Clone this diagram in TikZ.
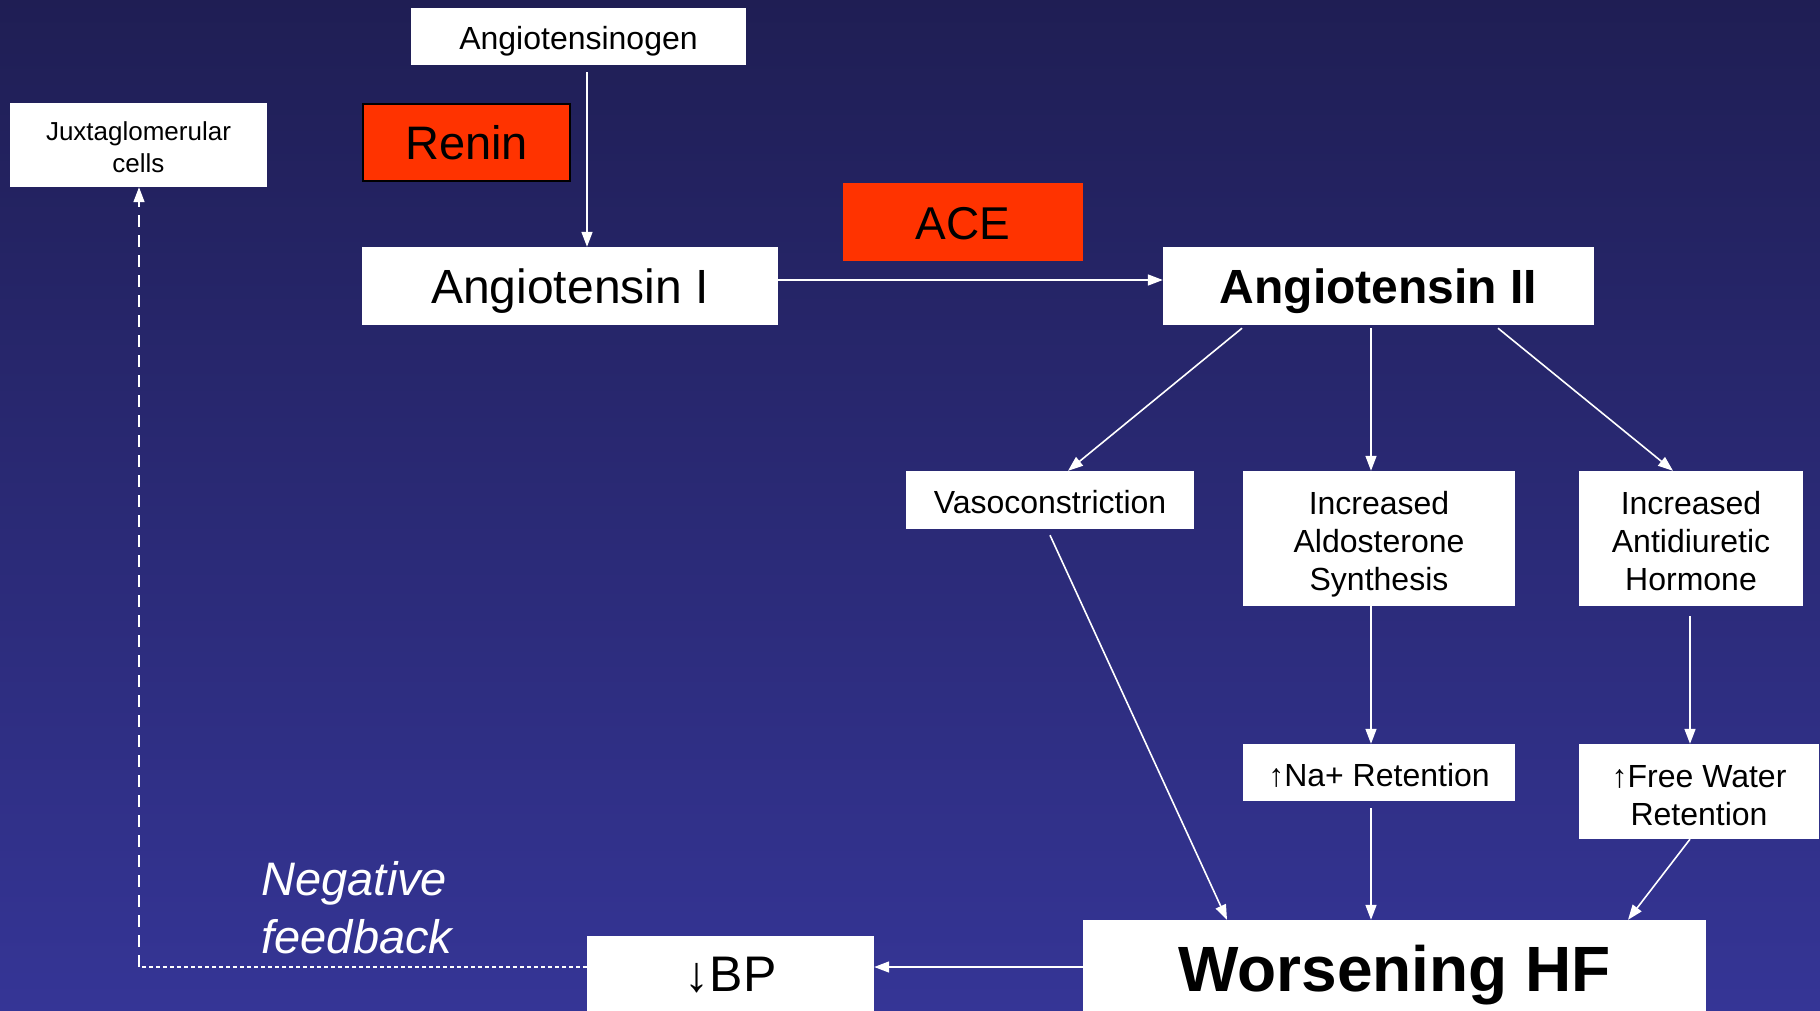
\documentclass[tikz,border=0pt]{standalone}
\usepackage{fontspec}
\setmainfont{Liberation Sans}
\usetikzlibrary{arrows.meta}
\definecolor{bgtop}{RGB}{31,30,84}
\definecolor{bgbot}{RGB}{53,53,150}
\definecolor{redbox}{RGB}{255,51,0}
\newcommand{\fsz}[2]{\fontsize{#1}{#2}\selectfont}
\newcommand{\topstrut}[1]{\rule{0pt}{#1}}
\begin{document}
\begin{tikzpicture}[x=1pt,y=-1pt,
  box/.style={fill=white, inner sep=0pt, text=black, align=center},
  redb/.style={fill=redbox, inner sep=0pt, text=black, align=center},
  arr/.style={draw=white, line width=1.6pt, -{Triangle[width=11pt,length=15pt]}},
  fbline/.style={draw=white, line width=1.6pt}
]
\useasboundingbox (0,0) rectangle (1820,1011);
\shade[top color=bgtop, bottom color=bgbot] (0,0) rectangle (1820,1011);

\node[box, minimum width=335pt, minimum height=57pt, text height=26pt, text depth=0pt, font=\fsz{32}{38}] (ogen) at (578.5,36.5) {Angiotensinogen};
\node[box, minimum width=257pt, minimum height=84pt, font=\fsz{26}{32}] (juxta) at (138.5,145) {\topstrut{23.6pt}Juxtaglomerular\\cells};
\node[redb, draw=black, line width=2pt, minimum width=207pt, minimum height=77pt, text height=35pt, text depth=0pt, font=\fsz{47}{54}] (renin) at (466.5,142.5) {Renin};
\node[box, minimum width=416pt, minimum height=78pt, text height=34pt, text depth=0pt, font=\fsz{48}{55}] (angI) at (570,286) {Angiotensin I};
\node[redb, minimum width=240pt, minimum height=78pt, text height=35.4pt, text depth=0pt, font=\fsz{46}{53}] (ace) at (963,222) {ACE};
\node[box, minimum width=431pt, minimum height=78pt, text height=34pt, text depth=0pt, font=\fsz{48}{55}\bfseries] (angII) at (1378.5,286) {Angiotensin II};
\node[box, minimum width=288pt, minimum height=58pt, text height=27.5pt, text depth=0pt, font=\fsz{32}{38}] (vaso) at (1050,500) {Vasoconstriction};
\node[box, minimum width=272pt, minimum height=135pt, font=\fsz{32}{38}] (aldo) at (1379,538.5) {\topstrut{35pt}Increased\\Aldosterone\\Synthesis};
\node[box, minimum width=224pt, minimum height=135pt, font=\fsz{32}{38}] (adh) at (1691,538.5) {\topstrut{28pt}Increased\\Antidiuretic\\Hormone};
\node[box, minimum width=272pt, minimum height=57pt, text height=27pt, text depth=0pt, font=\fsz{32}{38}] (na) at (1379,772.5) {↑Na+ Retention};
\node[box, minimum width=240pt, minimum height=95pt, font=\fsz{32}{38}] (fw) at (1699,791.5) {\topstrut{30pt}↑Free Water\\Retention};
\node[box, minimum width=623pt, minimum height=100pt, text height=42.4pt, text depth=0pt, font=\fsz{64}{72}\bfseries] (hf) at (1394.5,970) {Worsening HF};
\node[box, minimum width=287pt, minimum height=78pt, font=\fsz{50}{57}] (bp) at (730.5,975) {↓BP};
\node[text=white, inner sep=0pt, align=left, font=\fsz{47}{58}\itshape] (neg) at (357,908) {Negative\\feedback};

\draw[arr] ([xshift=8.5pt,yshift=-7pt]ogen.south) -- ([xshift=17pt]angI.north);
\draw[arr] ([yshift=6pt]angI.east) -- ([yshift=6pt]angII.west);
\draw[arr] ([xshift=-136.5pt,yshift=-3pt]angII.south) -- ([xshift=18pt]vaso.north);
\draw[arr] ([xshift=-7.5pt,yshift=-3pt]angII.south) -- ([xshift=-8pt]aldo.north);
\draw[arr] ([xshift=119.5pt,yshift=-3pt]angII.south) -- ([xshift=-18pt]adh.north);
\draw[arr] ([yshift=-6pt]vaso.south) -- ([xshift=-167.5pt]hf.north);
\draw[arr] ([xshift=-8pt]aldo.south) -- ([xshift=-8pt]na.north);
\draw[arr] ([xshift=-1pt,yshift=-10pt]adh.south) -- ([xshift=-9pt]fw.north);
\draw[arr] ([xshift=-8pt,yshift=-7pt]na.south) -- ([xshift=-23.5pt]hf.north);
\draw[arr] ([xshift=-9pt]fw.south) -- ([xshift=233.5pt]hf.north);
\draw[arr] ([yshift=3pt]hf.west) -- ([yshift=8pt]bp.east);

\coordinate (corner) at (139,967);
\draw[fbline, dash pattern=on 4pt off 3pt] ([yshift=8pt]bp.west) -- (corner);
\draw[fbline, dash pattern=on 12pt off 8pt, -{Triangle[width=11pt,length=15pt]}] (corner) -- ([xshift=0.5pt]juxta.south);
\end{tikzpicture}
\end{document}
